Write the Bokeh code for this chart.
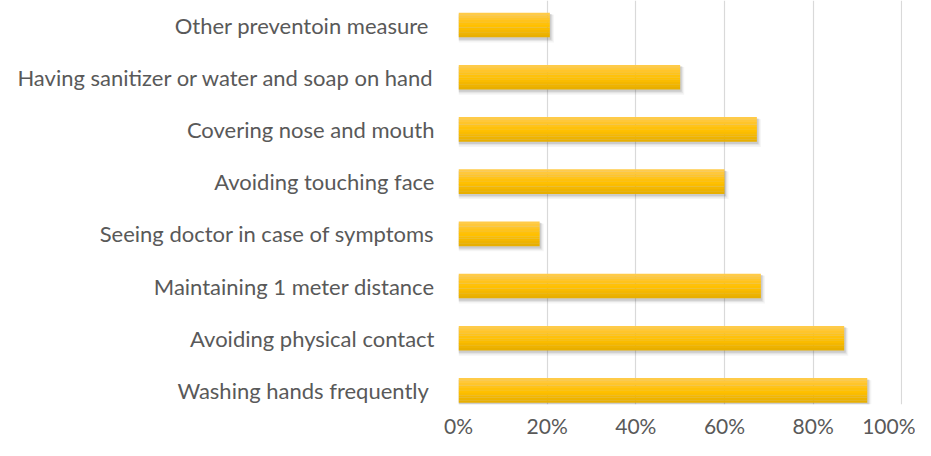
from bokeh.plotting import figure
from bokeh.models import ColumnDataSource, Range1d, FixedTicker
from bokeh.transform import dodge
from bokeh.embed import file_html
from bokeh.resources import INLINE

# Data (bottom to top)
categories = [
    "Washing hands frequently ",
    "Avoiding physical contact",
    "Maintaining 1 meter distance",
    "Seeing doctor in case of symptoms",
    "Avoiding touching face",
    "Covering nose and mouth",
    "Having sanitizer or water and soap on hand",
    "Other preventoin measure ",
]
values = [92.2, 87.0, 68.2, 18.3, 60.0, 67.3, 50.0, 20.6]
tick_values = [0, 20, 40, 60, 80, 100]

FONT = "Lato"
TXT = "#595959"

pos = [i + 0.5 for i in range(len(categories))]
src = ColumnDataSource(dict(y=pos, v=values))

p = figure(
    y_range=Range1d(0.23, 7.97),
    x_range=Range1d(0, 100.15),
    width=915, height=440,
    output_backend="svg", toolbar_location=None,
    min_border_left=458, min_border_right=13, min_border_top=0, min_border_bottom=0,
)
p.outline_line_color = None
p.background_fill_color = "white"

BAR_H = 0.47
# shadow layers
for i, (dx, dy, a) in enumerate([(0.9, -0.07, 0.06), (0.6, -0.05, 0.09), (0.35, -0.035, 0.14)]):
    p.hbar(y=dodge("y", dy), left=0, right=dodge("v", dx), height=BAR_H + 0.02 * (3 - i),
           source=src, fill_color="#404040", fill_alpha=a, line_color=None)

# gradient bar strips (top to bottom)
strip_colors = ["#FFCB48", "#FFC83A", "#FFC52A", "#FFC31A", "#FFC10A", "#FFC000", "#FABC00", "#F4B700", "#EEB300", "#E8AF00"]
n = len(strip_colors)
sh = BAR_H / n
for k, c in enumerate(strip_colors):
    off = BAR_H / 2 - sh * (k + 0.5)
    p.hbar(y=dodge("y", off), left=0, right="v", height=sh * 1.05,
           source=src, fill_color=c, line_color=None)

p.xgrid.ticker = FixedTicker(ticks=tick_values)
p.xgrid.grid_line_color = "#D9D9D9"
p.xgrid.grid_line_width = 1.2
p.ygrid.grid_line_color = None

p.xaxis.ticker = FixedTicker(ticks=tick_values)
p.xaxis.major_label_overrides = {t: f"{t}%" for t in tick_values}
p.yaxis.ticker = FixedTicker(ticks=pos)
p.yaxis.major_label_overrides = {y: c for y, c in zip(pos, categories)}
for ax in (p.xaxis, p.yaxis):
    ax.axis_line_color = None
    ax.major_tick_line_color = None
    ax.minor_tick_line_color = None
    ax.major_tick_in = 0
    ax.major_tick_out = 0
    ax.minor_tick_in = 0
    ax.minor_tick_out = 0
    ax.major_label_text_font = FONT
    ax.major_label_text_color = TXT
p.yaxis.major_label_text_font_size = "22px"
p.xaxis.major_label_text_font_size = "21px"
p.xaxis.major_label_text_line_height = 1.0
p.xaxis.major_label_standoff = 8
p.yaxis.major_label_standoff = 24

open("out.html", "w").write(file_html(p, INLINE))
